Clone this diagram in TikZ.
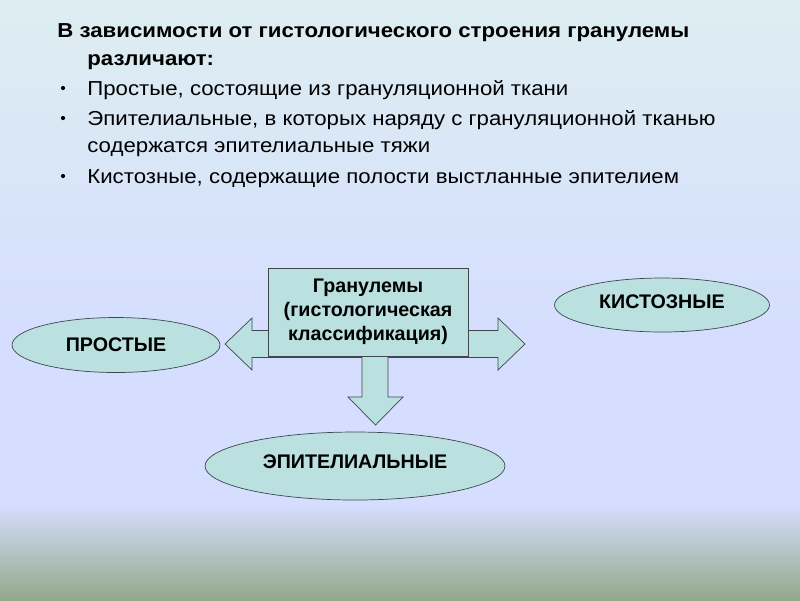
\documentclass[tikz,border=0pt]{standalone}
\usepackage{fontspec}
\setmainfont{Liberation Sans}
\newfontfamily\widefont[FakeStretch=1.1]{Liberation Sans}
\usepackage{xcolor}
\usetikzlibrary{shapes.geometric,positioning}

\definecolor{bgtop}{HTML}{DDEEF0}
\definecolor{bgmid}{HTML}{D5DEFF}
\definecolor{bgbot}{HTML}{93A88A}
\definecolor{tealfill}{HTML}{BAE0E0}
\definecolor{edge}{HTML}{3E474C}

\begin{document}
\begin{tikzpicture}[
    x=0.02cm, y=-0.02cm,
    font=\fontsize{11.2}{13.6}\selectfont,
    line/.style={anchor=base west, inner sep=0pt,
                 font=\widefont\fontsize{11.5}{13.8}\selectfont},
    kind/.style={draw=edge, fill=tealfill, ellipse, inner sep=0pt,
                 font=\fontsize{11.2}{13.6}\selectfont\bfseries},
    bigbox/.style={draw=edge, fill=tealfill, align=center, inner sep=0pt,
                   minimum width=4cm, minimum height=1.76cm,
                   font=\fontsize{11.2}{13.6}\selectfont\bfseries},
    blockarr/.style={draw=edge, fill=tealfill, line join=miter}
]

% background
\useasboundingbox (0,0) rectangle (800,600);
\shade[top color=bgtop, bottom color=bgmid] (0,0) rectangle (800,330);
\fill[bgmid] (0,329) rectangle (800,506);
\shade[top color=bgmid, bottom color=bgbot] (0,505) rectangle (800,600);

% text
\node[line, font=\widefont\fontsize{11.5}{13.8}\selectfont\bfseries] (title)
    at (57,37) {В зависимости от гистологического строения гранулемы};
\node[line, font=\widefont\fontsize{11.5}{13.8}\selectfont\bfseries] (title2)
    at (87,65) {различают:};
\node[line] (simple) at (87,95) {Простые, состоящие из грануляционной ткани};
\node[line] (epith) at (87,125)
    {Эпителиальные, в которых наряду с грануляционной тканью};
\node[line] (epith2) at (87,152) {содержатся эпителиальные тяжи};
\node[line] (cyst) at (87,183) {Кистозные, содержащие полости выстланные эпителием};
\foreach \yy in {88,118,176}
    \fill (63,\yy) circle (2.1);

% arrows
\draw[blockarr] (225,344) -- (252,318) -- (252,330.5) -- (498,330.5)
    -- (498,318) -- (525,344) -- (498,370) -- (498,357.5) -- (252,357.5)
    -- (252,370) -- cycle;
\draw[blockarr] (362,340) -- (388,340) -- (388,397) -- (403,397)
    -- (375.5,425) -- (348,397) -- (362,397) -- cycle;

% central box
\node[bigbox] (gran) at (368,312)
    {Гранулемы\\(гистологическая\\классификация)};

% kinds
\node[kind, minimum width=4.16cm, minimum height=1.1cm] (prost)
    at (116,345) {\raisebox{1pt}{ПРОСТЫЕ}};
\node[kind, minimum width=4.3cm, minimum height=1.08cm] (kist)
    at (662,305) {\raisebox{4pt}{КИСТОЗНЫЕ}};
\node[kind, minimum width=6cm, minimum height=1.36cm] (epi)
    at (355,466) {\raisebox{5pt}{ЭПИТЕЛИАЛЬНЫЕ}};

\end{tikzpicture}
\end{document}
